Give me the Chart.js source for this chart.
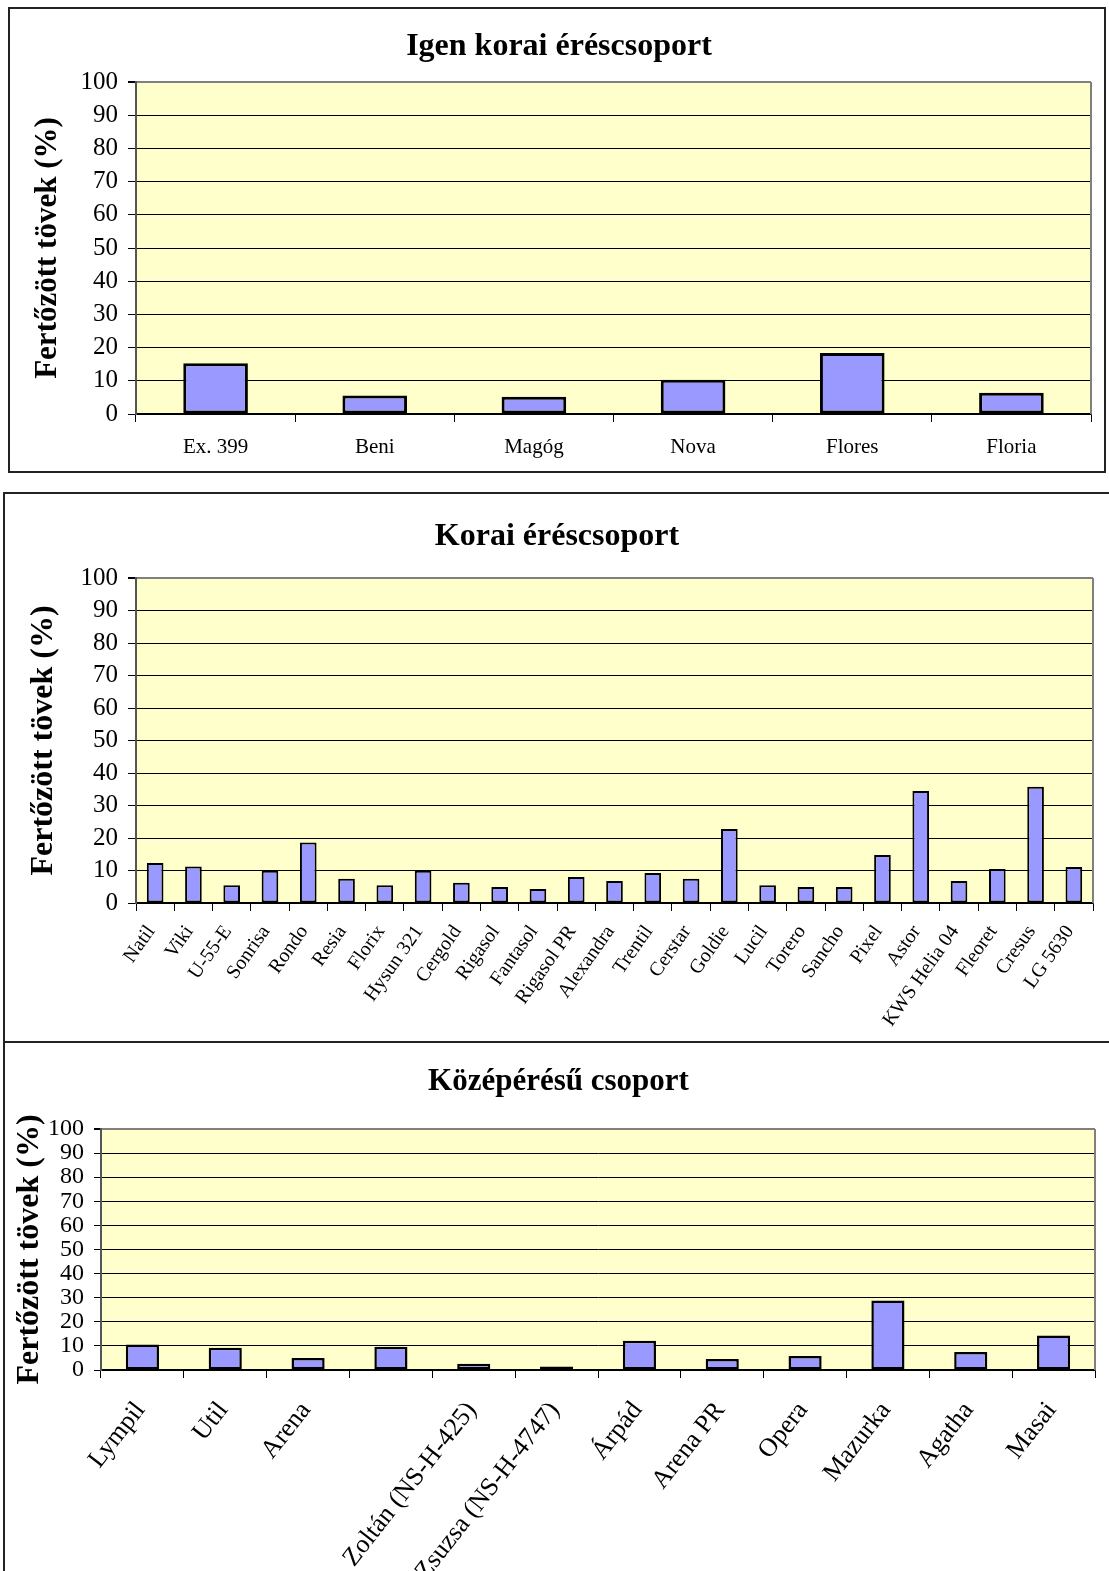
<!DOCTYPE html>
<html>
<head>
<meta charset="utf-8">
<script src="https://cdn.jsdelivr.net/npm/chart.js@4.4.1/dist/chart.umd.min.js"></script>
<style>
  html, body { margin: 0; padding: 0; background: #fff; }
  body { position: relative; width: 1109px; height: 1571px; overflow: hidden; }
  canvas { position: absolute; left: 0; }
  .frame { position: absolute; border: 2px solid #222; box-sizing: border-box; pointer-events: none; }
</style>
</head>
<body>
<canvas id="chartVeryEarly" width="1109" height="480" style="top:0"></canvas>
<canvas id="chartEarly" width="1109" height="550" style="top:490px"></canvas>
<canvas id="chartMid" width="1109" height="530" style="top:1041px"></canvas>
<div class="frame" style="left:8px;top:7px;width:1098px;height:466px"></div>
<div class="frame" style="left:3px;top:492px;width:1120px;height:551px"></div>
<div class="frame" style="left:3px;top:1041px;width:1120px;height:560px"></div>
<script>
// Igen korai éréscsoport
const veryEarlyLabels = ["Ex. 399", "Beni", "Magóg", "Nova", "Flores", "Floria"];
const veryEarlyValues = [15.3, 5.6, 5.2, 10.3, 18.4, 6.4];

// Korai éréscsoport
const earlyLabels = ["Natil", "Viki", "U-55-E", "Sonrisa", "Rondo", "Resia", "Florix", "Hysun 321",
  "Cergold", "Rigasol", "Fantasol", "Rigasol PR", "Alexandra", "Trentil", "Cerstar", "Goldie",
  "Lucil", "Torero", "Sancho", "Pixel", "Astor", "KWS Helia 04", "Fleoret", "Cresus", "LG 5630"];
const earlyValues = [12.3, 11.2, 5.5, 9.9, 18.6, 7.5, 5.5, 9.9, 6.2, 4.9, 4.3, 8.0, 6.8,
  9.2, 7.5, 22.8, 5.5, 4.9, 4.9, 14.8, 34.5, 6.8, 10.5, 35.8, 11.1];

// Középérésű csoport (the 4th variety has no name on the axis)
const midLabels = ["Lympil", "Util", "Arena", "", "Zoltán (NS-H-425)", "Zsuzsa (NS-H-4747)",
  "Árpád", "Arena PR", "Opera", "Mazurka", "Agatha", "Masai"];
const midValues = [10.6, 9.2, 5.0, 9.6, 2.6, 1.5, 12.1, 4.6, 5.8, 28.8, 7.5, 14.3];

const Y_TITLE = "Fertőzött tövek (%)";
const Y_MIN = 0;
const Y_MAX = 100;
const Y_STEP = 10;

const BAR_FILL = "#9999FF";
const PLOT_BG = "#FFFFCC";
const FRAME_GRAY = "#808080";

Chart.defaults.font.family = "'Liberation Serif', 'Times New Roman', serif";
Chart.defaults.color = "#000";

// yellow plot area + gray right edge like the old spreadsheet charts
const plotFrame = {
  id: "plotFrame",
  beforeDraw(chart) {
    const { ctx, chartArea: a } = chart;
    ctx.save();
    ctx.fillStyle = PLOT_BG;
    ctx.fillRect(a.left, a.top, a.right - a.left, a.bottom - a.top);
    ctx.restore();
  },
  afterDraw(chart) {
    const { ctx, chartArea: a } = chart;
    ctx.save();
    ctx.strokeStyle = FRAME_GRAY;
    ctx.lineWidth = 2;
    ctx.beginPath();
    ctx.moveTo(a.right, a.top);
    ctx.lineTo(a.right, a.bottom);
    ctx.stroke();
    ctx.restore();
  },
};

function makeBarChart(id, labels, values, cfg) {
  return new Chart(document.getElementById(id), {
    type: "bar",
    data: {
      labels,
      datasets: [{
        data: values,
        backgroundColor: BAR_FILL,
        borderColor: "#000",
        borderWidth: cfg.barBorder,
        borderSkipped: false,
        categoryPercentage: 1,
        barPercentage: cfg.barPct,
      }],
    },
    options: {
      responsive: false,
      animation: false,
      layout: { padding: { left: cfg.padLeft, right: cfg.padRight, top: 0, bottom: 0 } },
      plugins: {
        legend: { display: false },
        tooltip: { enabled: false },
        title: {
          display: true,
          text: cfg.title,
          color: "#000",
          font: { size: cfg.titleSize, weight: "bold", lineHeight: 1 },
          padding: { top: cfg.titleTop, bottom: cfg.titleBottom },
        },
      },
      scales: {
        x: {
          grid: {
            display: true,
            drawOnChartArea: false,
            drawTicks: true,
            tickLength: 8,
            color: "#000",
            offset: true,
          },
          border: { display: true, color: "#000", width: 1.5 },
          ticks: {
            color: "#000",
            autoSkip: false,
            font: { size: cfg.xFont, lineHeight: 1.2 },
            minRotation: cfg.rot,
            maxRotation: cfg.rot,
            padding: cfg.xPad,
            labelOffset: cfg.xOffset,
          },
          afterFit: (s) => { s.height = cfg.xHeight; },
        },
        y: {
          min: Y_MIN,
          max: Y_MAX,
          ticks: {
            stepSize: Y_STEP,
            autoSkip: false,
            color: "#000",
            font: { size: cfg.yFont, lineHeight: 1 },
            padding: 10,
          },
          grid: {
            color: (c) => (c.tick && c.tick.value === Y_MAX ? FRAME_GRAY : "#000"),
            lineWidth: (c) => (c.tick && c.tick.value === Y_MAX ? 2 : 1),
            tickColor: "#000",
            tickLength: cfg.yTick,
          },
          border: { color: "#555", width: 2 },
          title: {
            display: true,
            text: Y_TITLE,
            color: "#000",
            font: { size: cfg.yTitleSize, weight: "bold", lineHeight: cfg.yTitleLh },
            padding: { top: cfg.yTitlePad, bottom: 0 },
          },
          afterFit: (s) => { s.width = cfg.yWidth; },
        },
      },
    },
    plugins: [plotFrame],
  });
}

makeBarChart("chartVeryEarly", veryEarlyLabels, veryEarlyValues, {
  title: "Igen korai éréscsoport",
  titleSize: 32, titleTop: 31, titleBottom: 19,
  padLeft: 27, padRight: 18,
  yTitleSize: 31, yTitleLh: 1, yTitlePad: 5.5, yWidth: 109, yFont: 25, yTick: 8,
  xFont: 21, xPad: 13, xOffset: 0, rot: 0, xHeight: 66,
  barPct: 0.406, barBorder: 3,
});

makeBarChart("chartEarly", earlyLabels, earlyValues, {
  title: "Korai éréscsoport",
  titleSize: 32, titleTop: 31, titleBottom: 25,
  padLeft: 21, padRight: 16,
  yTitleSize: 32, yTitleLh: 1, yTitlePad: 7, yWidth: 115, yFont: 25, yTick: 8,
  xFont: 20, xPad: 10, xOffset: -4, rot: 55, xHeight: 137,
  barPct: 0.435, barBorder: 2,
});

makeBarChart("chartMid", midLabels, midValues, {
  title: "Középérésű csoport",
  titleSize: 31, titleTop: 25.5, titleBottom: 31.5,
  padLeft: 22, padRight: 14,
  yTitleSize: 32, yTitleLh: 0.5, yTitlePad: 0, yWidth: 79, yFont: 24, yTick: 7,
  xFont: 26, xPad: 18, xOffset: -2, rot: 52, xHeight: 201,
  barPct: 0.4, barBorder: 2.5,
});
</script>
</body>
</html>
